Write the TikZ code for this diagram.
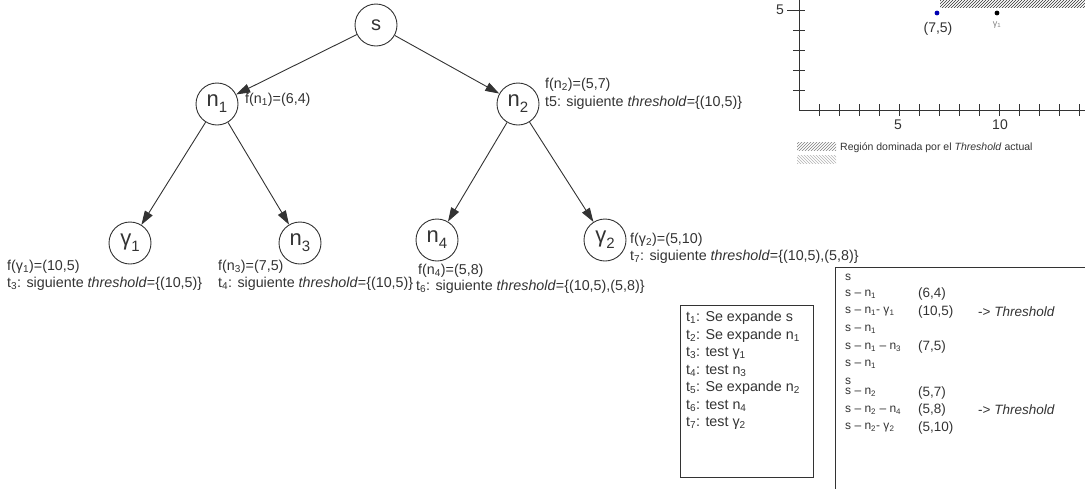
\documentclass[tikz,border=0pt]{standalone}
\usepackage{fontspec}
\setmainfont{Liberation Sans}
\usetikzlibrary{arrows.meta,patterns}
\definecolor{ink}{HTML}{333333}
\newcommand\nodelab[2]{{\fontsize{22}{22}\selectfont #1}\raisebox{-6pt}{\fontsize{15}{15}\selectfont #2}}
\newcommand\sbs[1]{\textsubscript{#1}}
\begin{document}
\begin{tikzpicture}[x=1pt,y=-1pt,
  state/.style={circle,draw=ink,line width=0.9pt,minimum size=42pt,inner sep=0pt,text=ink},
  edge/.style={draw=ink,line width=0.9pt,-{Triangle[length=14pt,width=9pt]}},
  note/.style={anchor=west,inner sep=0pt,text=ink,font=\fontsize{14.3}{16}\selectfont},
  trace/.style={anchor=west,inner sep=0pt,text=ink,font=\fontsize{12}{14}\selectfont},
  tag/.style={anchor=west,inner sep=0pt,text=ink,font=\fontsize{13.5}{15}\selectfont},
  axis/.style={draw=ink,line width=0.8pt},
  small/.style={inner sep=0pt,text=ink,font=\fontsize{14}{16}\selectfont}]
\useasboundingbox (0,0) rectangle (1085,488);

% search tree
\node[state] (s)  at (376,25)  {\fontsize{20}{20}\selectfont s};
\node[state] (n1) at (217,104) {\nodelab{n}{1}};
\node[state] (n2) at (518,104) {\nodelab{n}{2}};
\node[state] (g1) at (130,243) {\nodelab{γ}{1}};
\node[state] (n3) at (300,243) {\nodelab{n}{3}};
\node[state] (n4) at (437,240) {\nodelab{n}{4}};
\node[state] (g2) at (605,240) {\nodelab{γ}{2}};

\draw[edge] (s) -- (n1);
\draw[edge] (s) -- (n2);
\draw[edge] (n1) -- (g1);
\draw[edge] (n1) -- (n3);
\draw[edge] (n2) -- (n4);
\draw[edge] (n2) -- (g2);

% node costs and threshold updates
\node[note] (fn1) at (245,100) {f(n\sbs{1})=(6,4)};
\node[note] (fn2) at (545,85)  {f(n\sbs{2})=(5,7)};
\node[note] (tn2) at (545,103) {t5: siguiente \textit{threshold}=\{(10,5)\}};
\node[note] (fg1) at (7,267)   {f(γ\sbs{1})=(10,5)};
\node[note] (tg1) at (7,284)   {t\sbs{3}: siguiente \textit{threshold}=\{(10,5)\}};
\node[note] (fn3) at (218,267) {f(n\sbs{3})=(7,5)};
\node[note] (tn3) at (218,284) {t\sbs{4}: siguiente \textit{threshold}=\{(10,5)\}};
\node[note] (fn4) at (418,271) {f(n\sbs{4})=(5,8)};
\node[note] (tn4) at (416,287) {t\sbs{6}: siguiente \textit{threshold}=\{(10,5),(5,8)\}};
\node[note] (fg2) at (630,240) {f(γ\sbs{2})=(5,10)};
\node[note] (tg2) at (630,257) {t\sbs{7}: siguiente \textit{threshold}=\{(10,5),(5,8)\}};

% expansion order
\node[draw=ink,line width=0.8pt,minimum width=133pt,minimum height=172pt,anchor=north west,inner sep=0pt] (steps) at (680,305) {};
\node[anchor=north west,align=left,inner sep=0pt,text=ink,font=\fontsize{14.3}{17.5}\selectfont]
  (stepstext) at ([xshift=6pt,yshift=-6pt]steps.north west)
  {t\sbs{1}: Se expande s\\
   t\sbs{2}: Se expande n\sbs{1}\\
   t\sbs{3}: test γ\sbs{1}\\
   t\sbs{4}: test n\sbs{3}\\
   t\sbs{5}: Se expande n\sbs{2}\\
   t\sbs{6}: test n\sbs{4}\\
   t\sbs{7}: test γ\sbs{2}};

% path trace
\node[draw=ink,line width=0.8pt,minimum width=260pt,minimum height=240pt,anchor=north west,inner sep=0pt] (tracebox) at (835,267) {};
\node[trace] (r1)  at (845,277)   {s};
\node[trace] (r2)  at (845,294.5) {s – n\sbs{1}};
\node[trace] (r3)  at (845,312)   {s – n\sbs{1}- γ\sbs{1}};
\node[trace] (r4)  at (845,329.5) {s – n\sbs{1}};
\node[trace] (r5)  at (845,347)   {s – n\sbs{1} – n\sbs{3}};
\node[trace] (r6)  at (845,364.5) {s – n\sbs{1}};
\node[trace] (r7)  at (845,381)   {s};
\node[trace] (r8)  at (845,392.5) {s – n\sbs{2}};
\node[trace] (r9)  at (845,410)   {s – n\sbs{2} – n\sbs{4}};
\node[trace] (r10) at (845,427.5) {s – n\sbs{2}- γ\sbs{2}};
\node[tag] (c2)  at (918,294.5) {(6,4)};
\node[tag] (c3)  at (918,312)   {(10,5)};
\node[tag] (c5)  at (918,347)   {(7,5)};
\node[tag] (c8)  at (918,392.5) {(5,7)};
\node[tag] (c9)  at (918,410)   {(5,8)};
\node[tag] (c10) at (918,427.5) {(5,10)};
\node[tag] (h3)  at (978,312)   {-> \textit{Threshold}};
\node[tag] (h9)  at (978,410)   {-> \textit{Threshold}};

% cost space with the dominated region
\fill[pattern=north east lines,pattern color=ink] (940,0) rectangle (1085,7);
\draw[axis] (799,0) -- (799,110) -- (1085,110);
\foreach \i in {1,...,14} \draw[axis] (799+20*\i,104) -- (799+20*\i,116);
\foreach \j in {1,...,4} \draw[axis] (793,110-20*\j) -- (805,110-20*\j);
\draw[axis] (787,10) -- (805,10);
\node[small] (xl5)  at (898,125) {5};
\node[small] (xl10) at (1000,125) {10};
\node[small] (yl5)  at (780,10) {5};
\fill[blue!70!black] (937,13) circle (2.4);
\node[small] (p75) at (938,29) {(7,5)};
\fill[black] (997,13) circle (2.4);
\node[small,font=\fontsize{9}{10}\selectfont,text=gray] (pg1) at (997,25) {γ\sbs{1}};

% legend
\fill[pattern=north east lines,pattern color=gray] (797,142) rectangle (836,150);
\fill[pattern=north west lines,pattern color=gray!60] (797,155) rectangle (836,163);
\node[anchor=west,inner sep=0pt,text=ink,font=\fontsize{10.5}{12}\selectfont] (leg) at (840,148)
  {Región dominada por el \textit{Threshold} actual};
\end{tikzpicture}
\end{document}
